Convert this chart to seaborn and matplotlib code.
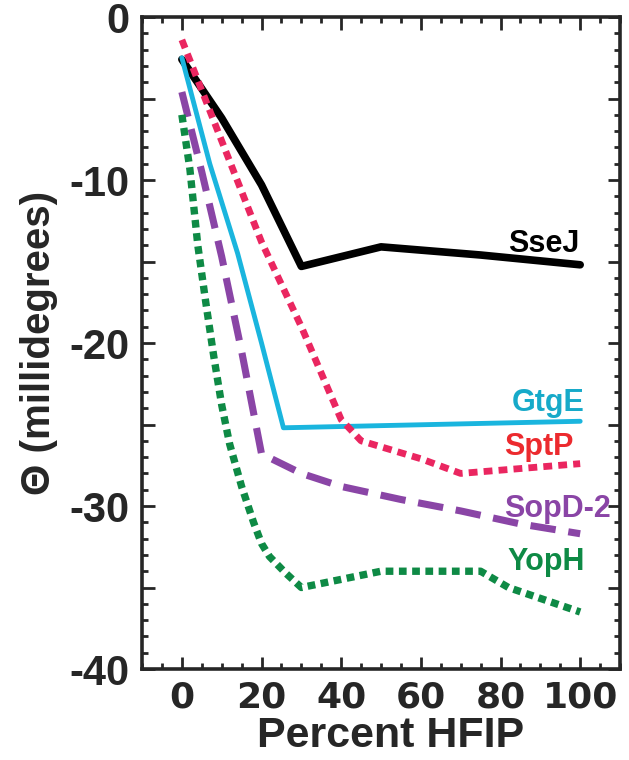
import numpy as np
import pandas as pd
import matplotlib
matplotlib.use('Agg')
import matplotlib.pyplot as plt
import seaborn as sns
from matplotlib.ticker import MultipleLocator, FuncFormatter

# --- data (Percent HFIP vs ellipticity) ---
ssej_x = [0, 10, 20, 30, 50, 75, 100]
ssej_y = [-2.6, -6.2, -10.3, -15.3, -14.1, -14.6, -15.2]

gtge_x = [0, 7, 14, 20, 25.5, 100]
gtge_y = [-2.5, -9.0, -14.5, -20.0, -25.2, -24.8]

sptp_x = [0, 10, 20, 30, 40, 45, 60, 70, 85, 100]
sptp_y = [-1.4, -7.6, -13.8, -19.0, -24.7, -26.0, -27.1, -28.0, -27.7, -27.4]

sopd_x = [0, 5, 10, 15, 20, 30, 40, 55, 70, 85, 100]
sopd_y = [-4.6, -9.5, -14.7, -20.5, -26.8, -28.0, -28.8, -29.6, -30.3, -31.1, -31.7]

yoph_x = [0, 2, 4, 6, 8, 10, 12, 15, 18, 20, 22, 26, 30, 40, 50, 60, 75, 82, 100]
yoph_y = [-6.0, -9.3, -14.0, -17.5, -20.8, -23.8, -26.2, -28.8, -31.0, -32.3, -33.1,
          -34.1, -35.0, -34.5, -34.0, -34.0, -34.0, -35.0, -36.5]

labels = ['SseJ', 'GtgE', 'SptP', 'SopD-2', 'YopH']
label_x = [90.8, 92.0, 89.5, 94.2, 91.5]
label_y = [-14.4, -24.2, -26.9, -30.7, -33.9]

sns.set_style('ticks')
plt.rcParams['font.family'] = ['Liberation Sans', 'DejaVu Sans']
plt.rcParams['axes.unicode_minus'] = False

fig = plt.figure(figsize=(6.29, 7.6), dpi=100)
ax = fig.add_axes([0.2258, 0.1197, 0.7599, 0.8579])

# series styles
styles = [
    dict(color='black', lw=5.5, ls='-'),
    dict(color='#1ab5de', lw=3.5, ls='-'),
    dict(color='#ea2660', lw=4.9, ls=(0, (1.3, 0.9))),
    dict(color='#8a45a6', lw=5.1, ls=(0, (3.6, 1.8))),
    dict(color='#0e8a45', lw=5.3, ls=(0, (1.05, 0.75))),
]
series = [(ssej_x, ssej_y), (gtge_x, gtge_y), (sptp_x, sptp_y),
          (sopd_x, sopd_y), (yoph_x, yoph_y)]

for (xs, ys), st in zip(series, styles):
    sns.lineplot(x=xs, y=ys, ax=ax, color=st['color'], linewidth=st['lw'],
                 linestyle=st['ls'], sort=False)

text_colors = ['black', '#17aac9', '#ec2a2e', '#8a45a6', '#0e8a45']
for lab, tx, ty, c in zip(labels, label_x, label_y, text_colors):
    ax.text(tx, ty, lab, color=c, fontsize=22, fontweight='bold',
            ha='center', va='baseline', clip_on=False)

ax.set_xlim(-10, 110)
ax.set_ylim(-40, 0)

ax.xaxis.set_major_locator(MultipleLocator(20))
ax.xaxis.set_minor_locator(MultipleLocator(5))
ax.yaxis.set_major_locator(MultipleLocator(5))
ax.yaxis.set_minor_locator(MultipleLocator(1))
ax.yaxis.set_major_formatter(FuncFormatter(lambda v, p: '%d' % v if v % 10 == 0 else ''))
ax.xaxis.set_major_formatter(FuncFormatter(lambda v, p: '%d' % v if 0 <= v <= 100 else ''))

ax.tick_params(which='both', direction='in', top=True, right=True, width=2)
ax.tick_params(which='major', length=9)
ax.tick_params(which='minor', length=4.5)
ax.tick_params(axis='x', which='major', labelsize=26, pad=8)
ax.tick_params(axis='y', which='major', labelsize=30, pad=9)
for lbl in ax.get_xticklabels():
    lbl.set_fontweight('bold')
    lbl.set_fontfamily('DejaVu Sans')
for lbl in ax.get_yticklabels():
    lbl.set_fontweight('bold')

for sp in ax.spines.values():
    sp.set_linewidth(2.6)
    sp.set_visible(True)

ax.set_xlabel('Percent HFIP', fontsize=31, fontweight='bold')
ax.xaxis.set_label_coords(0.519, -0.072)
ax.set_ylabel('Θ (millidegrees)', fontsize=29, fontweight='bold')
ax.yaxis.set_label_coords(-0.176, 0.5)

fig.savefig('out.png', dpi=100)
